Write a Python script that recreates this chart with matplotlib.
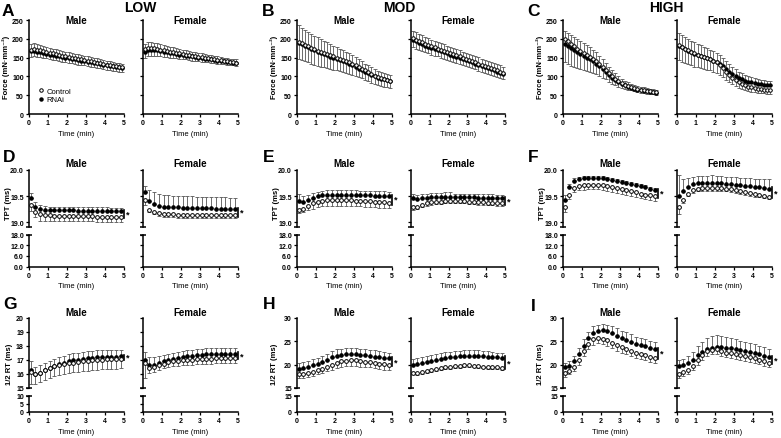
import numpy as np
import matplotlib
matplotlib.use('Agg')
import matplotlib.pyplot as plt

plt.rcParams['font.family'] = ['Liberation Sans', 'DejaVu Sans']
plt.rcParams['font.weight'] = 'bold'

# ---------------- DATA ----------------
GROUPS = ['LOW', 'MOD', 'HIGH']
SEXES = ['Male', 'Female']
LEGEND_LABELS = ['Control', 'RNAi']

T_FORCE = [0.083, 0.25, 0.417, 0.583, 0.75, 0.917, 1.083, 1.25, 1.417, 1.583,
           1.75, 1.917, 2.083, 2.25, 2.417, 2.583, 2.75, 2.917, 3.083, 3.25,
           3.417, 3.583, 3.75, 3.917, 4.083, 4.25, 4.417, 4.583, 4.75, 4.917]
T_TWITCH = [0.083, 0.333, 0.583, 0.833, 1.083, 1.333, 1.583, 1.833, 2.083, 2.333,
            2.583, 2.833, 3.083, 3.333, 3.583, 3.833, 4.083, 4.333, 4.583, 4.833]
X_TICKS = [0, 1, 2, 3, 4, 5]

# Force (mN/mm2) -- panels A, B, C
A_M_CTRL = [170, 172, 171, 169, 167, 165, 163, 161, 159, 157, 155, 153, 151, 150, 148,
            146, 145, 143, 141, 140, 138, 136, 135, 133, 131, 130, 128, 127, 125, 124]
A_M_RNAI = [167, 168, 166, 164, 162, 160, 158, 157, 155, 153, 151, 150, 148, 147, 145,
            144, 142, 141, 139, 138, 136, 135, 133, 131, 130, 128, 127, 125, 124, 122]
A_M_CTRL_ERR = [18, 19, 19, 18, 18, 17, 17, 17, 16, 16, 16, 16, 15, 15, 15,
                15, 15, 14, 14, 14, 14, 14, 13, 13, 13, 13, 13, 13, 13, 13]
A_M_RNAI_ERR = [19, 20, 20, 19, 19, 18, 18, 17, 17, 17, 16, 16, 16, 15, 15,
                15, 14, 14, 14, 13, 13, 13, 13, 12, 12, 12, 12, 11, 11, 11]
A_F_CTRL = [172, 175, 176, 175, 173, 171, 169, 168, 166, 164, 163, 161, 160, 158, 157,
            155, 154, 152, 151, 150, 148, 147, 145, 144, 143, 141, 140, 139, 137, 136]
A_F_RNAI = [166, 170, 171, 170, 169, 167, 166, 164, 163, 161, 160, 158, 157, 155, 154,
            153, 151, 150, 149, 147, 146, 145, 143, 142, 141, 140, 139, 137, 136, 135]
A_F_CTRL_ERR = [22, 22, 21, 20, 19, 18, 17, 17, 16, 15, 15, 14, 14, 13, 13,
                13, 12, 12, 12, 11, 11, 11, 10, 10, 10, 9, 9, 9, 8, 8]
A_F_RNAI_ERR = [20, 21, 21, 20, 19, 18, 17, 17, 16, 16, 15, 15, 14, 14, 13,
                13, 13, 12, 12, 12, 11, 11, 11, 11, 10, 10, 10, 10, 10, 10]

B_M_CTRL = [191, 188, 184, 180, 176, 172, 168, 165, 162, 159, 156, 153, 150, 147, 144,
            141, 137, 133, 129, 125, 121, 116, 111, 106, 102, 99, 96, 93, 91, 89]
B_M_RNAI = [190, 186, 181, 177, 173, 169, 166, 162, 159, 156, 152, 149, 146, 143, 140,
            137, 133, 129, 125, 121, 117, 112, 108, 104, 100, 97, 94, 92, 90, 88]
B_M_CTRL_ERR = [46, 45, 44, 43, 42, 41, 40, 39, 38, 37, 36, 35, 34, 33, 32,
                31, 30, 29, 28, 27, 26, 25, 24, 23, 22, 22, 21, 21, 20, 20]
B_M_RNAI_ERR = [46, 44, 42, 41, 40, 39, 38, 37, 36, 35, 34, 33, 32, 31, 30,
                29, 28, 27, 26, 25, 24, 22, 21, 20, 19, 18, 17, 17, 16, 16]
B_F_CTRL = [201, 198, 194, 191, 187, 184, 180, 177, 174, 171, 168, 165, 162, 159, 156,
            153, 150, 147, 144, 141, 138, 134, 131, 128, 125, 122, 119, 116, 113, 110]
B_F_RNAI = [196, 193, 189, 186, 182, 179, 176, 173, 170, 167, 164, 161, 158, 155, 152,
            149, 146, 143, 140, 137, 134, 131, 128, 125, 122, 119, 116, 113, 110, 107]
B_F_CTRL_ERR = [24, 24, 23, 23, 23, 22, 22, 22, 21, 21, 21, 21, 20, 20, 20,
                20, 20, 19, 19, 19, 19, 19, 19, 18, 18, 18, 18, 18, 18, 18]
B_F_RNAI_ERR = [24, 24, 24, 23, 23, 23, 22, 22, 22, 22, 21, 21, 21, 21, 21,
                20, 20, 20, 20, 20, 20, 20, 19, 19, 19, 19, 19, 19, 19, 19]

C_M_CTRL = [200, 193, 186, 180, 174, 168, 162, 157, 152, 146, 140, 133, 125, 117, 108,
            100, 93, 87, 82, 78, 75, 72, 69, 67, 65, 63, 61, 60, 59, 58]
C_M_RNAI = [185, 180, 175, 170, 165, 160, 155, 150, 145, 140, 134, 127, 119, 111, 103,
            96, 90, 85, 80, 76, 73, 70, 67, 65, 63, 62, 60, 59, 58, 57]
C_M_CTRL_ERR = [62, 60, 58, 55, 52, 49, 46, 43, 40, 37, 34, 31, 28, 25, 22,
                19, 16, 14, 12, 11, 10, 9, 9, 8, 8, 8, 8, 7, 7, 7]
C_M_RNAI_ERR = [36, 36, 36, 35, 35, 34, 34, 33, 32, 31, 30, 28, 26, 24, 22,
                20, 18, 16, 14, 13, 12, 11, 10, 10, 9, 9, 9, 8, 8, 8]
C_F_CTRL = [183, 178, 173, 169, 165, 161, 158, 155, 152, 149, 146, 142, 137, 130, 122,
            113, 105, 97, 90, 85, 80, 76, 73, 71, 69, 67, 66, 65, 64, 63]
C_F_RNAI = [182, 177, 172, 168, 164, 160, 157, 154, 151, 148, 145, 142, 138, 133, 127,
            120, 113, 107, 101, 96, 92, 89, 86, 84, 82, 80, 79, 78, 77, 76]
C_F_CTRL_ERR = [40, 39, 38, 37, 36, 35, 34, 33, 32, 31, 30, 29, 28, 26, 24,
                22, 20, 18, 16, 15, 14, 13, 12, 12, 11, 11, 11, 10, 10, 10]
C_F_RNAI_ERR = [33, 33, 32, 32, 31, 31, 30, 29, 28, 27, 26, 25, 24, 23, 22,
                21, 20, 19, 18, 17, 16, 15, 14, 14, 13, 13, 12, 12, 12, 12]

# TPT (ms) -- panels D, E, F
D_M_CTRL = [19.34, 19.20, 19.15, 19.13, 19.13, 19.12, 19.12, 19.12, 19.12, 19.12,
            19.12, 19.12, 19.12, 19.12, 19.11, 19.11, 19.11, 19.11, 19.11, 19.11]
D_M_RNAI = [19.46, 19.30, 19.26, 19.24, 19.23, 19.23, 19.23, 19.23, 19.23, 19.23,
            19.22, 19.22, 19.22, 19.22, 19.22, 19.22, 19.22, 19.21, 19.21, 19.21]
D_M_CTRL_ERR = [0.12, 0.10, 0.12, 0.11, 0.10, 0.10, 0.10, 0.10, 0.10, 0.10,
                0.10, 0.10, 0.10, 0.10, 0.10, 0.10, 0.10, 0.10, 0.10, 0.10]
D_M_RNAI_ERR = [0.10, 0.08, 0.07, 0.07, 0.07, 0.07, 0.07, 0.07, 0.07, 0.07,
                0.07, 0.07, 0.07, 0.07, 0.07, 0.07, 0.07, 0.07, 0.07, 0.07]
D_F_CTRL = [19.42, 19.24, 19.20, 19.17, 19.16, 19.15, 19.15, 19.14, 19.14, 19.14,
            19.14, 19.14, 19.13, 19.13, 19.13, 19.13, 19.13, 19.13, 19.13, 19.13]
D_F_RNAI = [19.58, 19.40, 19.35, 19.32, 19.30, 19.30, 19.29, 19.29, 19.28, 19.28,
            19.28, 19.27, 19.27, 19.27, 19.27, 19.26, 19.26, 19.26, 19.25, 19.25]
D_F_CTRL_ERR = [0.08, 0.05, 0.05, 0.05, 0.05, 0.05, 0.05, 0.05, 0.05, 0.05,
                0.05, 0.05, 0.05, 0.05, 0.05, 0.05, 0.05, 0.05, 0.05, 0.05]
D_F_RNAI_ERR = [0.12, 0.22, 0.22, 0.22, 0.22, 0.22, 0.22, 0.22, 0.22, 0.22,
                0.22, 0.22, 0.22, 0.22, 0.22, 0.22, 0.22, 0.22, 0.22, 0.22]

E_M_CTRL = [19.23, 19.25, 19.31, 19.36, 19.39, 19.41, 19.42, 19.42, 19.42, 19.42,
            19.42, 19.42, 19.41, 19.41, 19.40, 19.40, 19.39, 19.38, 19.38, 19.37]
E_M_RNAI = [19.40, 19.38, 19.43, 19.47, 19.50, 19.52, 19.53, 19.53, 19.53, 19.53,
            19.53, 19.53, 19.53, 19.52, 19.52, 19.52, 19.51, 19.51, 19.51, 19.50]
E_M_CTRL_ERR = [0.06, 0.06, 0.08, 0.10, 0.10, 0.10, 0.10, 0.10, 0.10, 0.10,
                0.10, 0.10, 0.10, 0.10, 0.10, 0.10, 0.10, 0.10, 0.10, 0.10]
E_M_RNAI_ERR = [0.15, 0.12, 0.10, 0.09, 0.08, 0.08, 0.08, 0.08, 0.08, 0.08,
                0.08, 0.08, 0.08, 0.08, 0.08, 0.08, 0.08, 0.08, 0.08, 0.08]
E_F_CTRL = [19.29, 19.30, 19.33, 19.36, 19.38, 19.39, 19.39, 19.40, 19.40, 19.40,
            19.40, 19.40, 19.39, 19.39, 19.38, 19.38, 19.37, 19.37, 19.36, 19.36]
E_F_RNAI = [19.46, 19.45, 19.46, 19.47, 19.48, 19.48, 19.48, 19.49, 19.49, 19.48,
            19.48, 19.48, 19.48, 19.48, 19.47, 19.47, 19.47, 19.47, 19.46, 19.46]
E_F_CTRL_ERR = [0.05, 0.05, 0.04, 0.04, 0.04, 0.04, 0.04, 0.04, 0.04, 0.04,
                0.04, 0.04, 0.04, 0.04, 0.04, 0.04, 0.04, 0.04, 0.04, 0.04]
E_F_RNAI_ERR = [0.08, 0.08, 0.08, 0.08, 0.08, 0.08, 0.08, 0.08, 0.08, 0.07,
                0.07, 0.07, 0.07, 0.07, 0.07, 0.07, 0.07, 0.07, 0.07, 0.07]

F_M_CTRL = [19.29, 19.53, 19.65, 19.69, 19.71, 19.72, 19.72, 19.72, 19.71, 19.69,
            19.67, 19.65, 19.63, 19.61, 19.59, 19.57, 19.55, 19.53, 19.52, 19.50]
F_M_RNAI = [19.43, 19.68, 19.79, 19.83, 19.85, 19.85, 19.85, 19.85, 19.84, 19.83,
            19.81, 19.79, 19.77, 19.75, 19.73, 19.71, 19.69, 19.67, 19.64, 19.61]
F_M_CTRL_ERR = [0.10, 0.08, 0.08, 0.08, 0.09, 0.09, 0.09, 0.09, 0.09, 0.09,
                0.09, 0.09, 0.09, 0.09, 0.09, 0.09, 0.09, 0.09, 0.09, 0.09]
F_M_RNAI_ERR = [0.10, 0.05, 0.05, 0.04, 0.04, 0.04, 0.04, 0.04, 0.04, 0.04,
                0.04, 0.04, 0.04, 0.04, 0.04, 0.04, 0.04, 0.04, 0.04, 0.04]
F_F_CTRL = [19.30, 19.42, 19.55, 19.61, 19.64, 19.65, 19.65, 19.65, 19.65, 19.65,
            19.64, 19.63, 19.61, 19.59, 19.57, 19.56, 19.54, 19.53, 19.51, 19.49]
F_F_RNAI = [19.50, 19.60, 19.68, 19.73, 19.75, 19.75, 19.75, 19.75, 19.75, 19.75,
            19.74, 19.73, 19.72, 19.71, 19.70, 19.69, 19.68, 19.67, 19.66, 19.64]
F_F_CTRL_ERR = [0.15, 0.06, 0.05, 0.05, 0.05, 0.05, 0.05, 0.05, 0.05, 0.05,
                0.05, 0.05, 0.05, 0.05, 0.05, 0.05, 0.05, 0.05, 0.05, 0.05]
F_F_RNAI_ERR = [0.40, 0.22, 0.17, 0.14, 0.13, 0.13, 0.14, 0.16, 0.14, 0.13,
                0.13, 0.13, 0.14, 0.14, 0.14, 0.15, 0.15, 0.16, 0.17, 0.18]

# 1/2 RT (ms) -- panels G, H, I
G_M_CTRL = [16.15, 16.00, 16.10, 16.28, 16.42, 16.55, 16.63, 16.70, 16.76, 16.82,
            16.87, 16.91, 16.95, 16.98, 17.01, 17.03, 17.05, 17.07, 17.08, 17.10]
G_M_RNAI = [16.30, 15.97, 16.07, 16.28, 16.45, 16.60, 16.72, 16.82, 16.90, 16.97,
            17.02, 17.08, 17.12, 17.16, 17.19, 17.21, 17.23, 17.24, 17.25, 17.26]
G_M_CTRL_ERR = [0.85, 0.70, 0.70, 0.70, 0.70, 0.70, 0.70, 0.70, 0.70, 0.70,
                0.70, 0.70, 0.70, 0.70, 0.70, 0.70, 0.70, 0.70, 0.70, 0.70]
G_M_RNAI_ERR = [0.65, 0.55, 0.55, 0.52, 0.50, 0.50, 0.50, 0.50, 0.50, 0.50,
                0.50, 0.50, 0.50, 0.50, 0.50, 0.50, 0.48, 0.48, 0.48, 0.48]
G_F_CTRL = [16.80, 16.45, 16.47, 16.62, 16.75, 16.84, 16.90, 16.95, 16.98, 17.00,
            17.02, 17.04, 17.06, 17.08, 17.10, 17.12, 17.13, 17.15, 17.16, 17.17]
G_F_RNAI = [17.00, 16.65, 16.65, 16.78, 16.90, 16.98, 17.05, 17.15, 17.22, 17.27,
            17.31, 17.35, 17.38, 17.42, 17.43, 17.44, 17.45, 17.45, 17.45, 17.45]
G_F_CTRL_ERR = [1.10, 0.35, 0.35, 0.35, 0.35, 0.35, 0.35, 0.35, 0.35, 0.35,
                0.35, 0.35, 0.35, 0.35, 0.35, 0.35, 0.35, 0.35, 0.35, 0.35]
G_F_RNAI_ERR = [0.60, 0.55, 0.55, 0.50, 0.48, 0.46, 0.45, 0.45, 0.44, 0.43,
                0.43, 0.42, 0.42, 0.41, 0.41, 0.41, 0.41, 0.41, 0.41, 0.41]

H_M_CTRL = [17.95, 17.90, 18.20, 18.45, 18.80, 19.15, 19.55, 19.95, 20.40, 20.70,
            20.85, 20.90, 20.90, 20.80, 20.65, 20.50, 20.35, 20.20, 20.05, 19.95]
H_M_RNAI = [19.00, 19.30, 19.50, 19.85, 20.20, 20.60, 21.05, 21.55, 21.95, 22.10,
            22.20, 22.25, 22.20, 22.10, 22.00, 21.85, 21.75, 21.60, 21.50, 21.35]
H_M_CTRL_ERR = [0.8, 0.8, 0.8, 0.9, 0.9, 1.0, 1.0, 1.1, 1.1, 1.2,
                1.2, 1.2, 1.2, 1.2, 1.2, 1.1, 1.1, 1.1, 1.1, 1.1]
H_M_RNAI_ERR = [1.3, 1.3, 1.3, 1.3, 1.3, 1.3, 1.3, 1.3, 1.35, 1.35,
                1.35, 1.35, 1.35, 1.35, 1.3, 1.3, 1.3, 1.3, 1.25, 1.25]
H_F_CTRL = [18.30, 18.25, 18.45, 18.65, 18.85, 19.05, 19.25, 19.40, 19.55, 19.65,
            19.75, 19.85, 19.85, 19.80, 19.70, 19.60, 19.55, 19.45, 19.40, 19.30]
H_F_RNAI = [20.00, 20.20, 20.40, 20.65, 20.85, 21.05, 21.25, 21.45, 21.60, 21.70,
            21.80, 21.90, 21.95, 21.90, 21.85, 21.80, 21.75, 21.65, 21.60, 21.50]
H_F_CTRL_ERR = [0.4, 0.4, 0.4, 0.4, 0.4, 0.4, 0.4, 0.4, 0.4, 0.4,
                0.4, 0.4, 0.4, 0.4, 0.4, 0.4, 0.4, 0.4, 0.4, 0.4]
H_F_RNAI_ERR = [1.3, 1.3, 1.25, 1.2, 1.2, 1.2, 1.2, 1.2, 1.2, 1.2,
                1.2, 1.2, 1.2, 1.2, 1.2, 1.15, 1.1, 1.1, 1.0, 1.0]

I_M_CTRL = [18.20, 18.60, 19.40, 21.00, 22.90, 24.50, 25.40, 25.80, 25.60, 25.20,
            24.70, 24.20, 23.80, 23.40, 23.00, 22.60, 22.30, 22.00, 21.70, 21.50]
I_M_RNAI = [19.50, 19.70, 20.80, 22.20, 24.00, 25.70, 26.80, 27.30, 27.50, 27.20,
            26.70, 26.20, 25.70, 25.30, 24.90, 24.50, 24.20, 23.90, 23.60, 23.30]
I_M_CTRL_ERR = [0.9, 0.6, 0.8, 1.0, 1.1, 1.2, 1.2, 1.2, 1.2, 1.2,
                1.2, 1.2, 1.2, 1.1, 1.1, 1.1, 1.1, 1.1, 1.1, 1.1]
I_M_RNAI_ERR = [0.9, 1.0, 1.1, 1.3, 1.5, 1.4, 1.4, 1.3, 1.3, 1.4,
                1.5, 1.6, 1.6, 1.6, 1.6, 1.5, 1.5, 1.5, 1.5, 1.5]
I_F_CTRL = [18.10, 18.40, 18.90, 19.80, 21.00, 22.10, 22.90, 23.20, 23.30, 22.90,
            22.60, 22.40, 22.20, 22.00, 21.80, 21.60, 21.40, 21.10, 20.80, 20.40]
I_F_RNAI = [19.70, 20.00, 20.40, 21.00, 22.00, 22.70, 23.30, 23.60, 23.80, 23.80,
            23.60, 23.50, 23.30, 23.10, 22.90, 22.70, 22.50, 22.20, 21.90, 21.60]
I_F_CTRL_ERR = [0.9, 0.8, 0.8, 0.9, 1.0, 1.0, 1.0, 1.0, 1.0, 1.0,
                1.0, 1.0, 1.0, 1.0, 1.0, 1.0, 1.0, 1.0, 1.0, 1.0]
I_F_RNAI_ERR = [1.3, 1.3, 1.5, 1.8, 2.0, 2.2, 2.4, 2.5, 2.5, 2.4,
                2.3, 2.2, 2.1, 2.0, 2.0, 1.9, 1.9, 1.8, 1.8, 1.8]

# ---------------- LAYOUT ----------------
W, H = 781, 439
fig = plt.figure(figsize=(W / 100, H / 100), dpi=100)
COLS = [(29, 124), (143, 238), (297, 392), (411, 505), (563, 658), (677, 772)]
ERR_COLOR = '#555555'
TICK_FS = 5
LABEL_FS = 5.5


def box(x0, x1, ytop, ybot):
    return [x0 / W, 1 - ybot / H, (x1 - x0) / W, (ybot - ytop) / H]


def style(ax, bottom=True):
    for s in ['top', 'right']:
        ax.spines[s].set_visible(False)
    ax.spines['left'].set_linewidth(1.1)
    ax.spines['bottom'].set_linewidth(1.1)
    if not bottom:
        ax.spines['bottom'].set_visible(False)
    ax.tick_params(width=0.9, length=2.2, labelsize=TICK_FS, pad=1.5)


def draw(ax, t, ctrl, cerr, rnai, rerr, ms_o=2.7, ms_f=2.3):
    z = np.zeros(len(t))
    ax.errorbar(t, ctrl, yerr=[cerr, z], fmt='none', ecolor=ERR_COLOR,
                elinewidth=0.6, capsize=1.5, capthick=0.6, zorder=2)
    ax.errorbar(t, rnai, yerr=[z, rerr], fmt='none', ecolor=ERR_COLOR,
                elinewidth=0.6, capsize=1.5, capthick=0.6, zorder=2)
    hr, = ax.plot(t, rnai, 'o', ms=ms_f, color='black', zorder=3, clip_on=False)
    hc, = ax.plot(t, ctrl, 'o', ms=ms_o, mfc='white', mec='black', mew=0.7,
                  zorder=4, clip_on=False)
    return hc, hr


def xaxis(ax):
    ax.set_xlim(0, 5)
    ax.set_xticks(X_TICKS)
    ax.set_xlabel('Time (min)', fontsize=LABEL_FS, labelpad=2.5)


def bracket(ax, ctrl, rnai, pad):
    lo = min(ctrl[-1], rnai[-1]) - pad
    hi = max(ctrl[-1], rnai[-1]) + pad
    ax.plot([5.0, 5.0], [lo, hi], color='black', lw=1.2, clip_on=False)
    ax.text(5.22, (lo + hi) / 2, '*', fontsize=6.5, ha='center', va='center')


def break_caps(axu, axl):
    for ax, y in [(axu, 0.0), (axl, 1.0)]:
        ax.plot([-0.035, 0.035], [y, y], transform=ax.transAxes, color='black',
                lw=1.1, clip_on=False, solid_capstyle='butt')


# ---------------- ROW 1: FORCE ----------------
force_sets = [
    (A_M_CTRL, A_M_CTRL_ERR, A_M_RNAI, A_M_RNAI_ERR),
    (A_F_CTRL, A_F_CTRL_ERR, A_F_RNAI, A_F_RNAI_ERR),
    (B_M_CTRL, B_M_CTRL_ERR, B_M_RNAI, B_M_RNAI_ERR),
    (B_F_CTRL, B_F_CTRL_ERR, B_F_RNAI, B_F_RNAI_ERR),
    (C_M_CTRL, C_M_CTRL_ERR, C_M_RNAI, C_M_RNAI_ERR),
    (C_F_CTRL, C_F_CTRL_ERR, C_F_RNAI, C_F_RNAI_ERR),
]
for i, (c, ce, r, re_) in enumerate(force_sets):
    x0, x1 = COLS[i]
    ax = fig.add_axes(box(x0, x1, 21, 115))
    style(ax)
    hc, hr = draw(ax, T_FORCE, c, ce, r, re_, ms_o=2.5, ms_f=2.2)
    ax.set_ylim(0, 250)
    ax.set_yticks([0, 50, 100, 150, 200, 250])
    if i % 2 == 1:
        ax.set_yticklabels([])
    else:
        fig.text((x0 - 23) / W, 1 - 67 / H, 'Force (mN\u00b7mm\u207b\u00b2)',
                 rotation=90, ha='center', va='center', fontsize=LABEL_FS)
    xaxis(ax)
    fig.text((x0 + x1) / 2 / W, 1 - 21 / H, SEXES[i % 2], ha='center',
             va='center', fontsize=7)
    if i == 0:
        ax.legend([hc, hr], LEGEND_LABELS, loc='upper left',
                  bbox_to_anchor=(0.105, 0.285), frameon=False,
                  prop={'size': 5.5, 'weight': 'normal'},
                  handlelength=0.6, handletextpad=0.4,
                  labelspacing=0.2, borderpad=0, borderaxespad=0)


# ---------------- ROWS 2 & 3: BROKEN AXES ----------------
def broken_panel(i, top, brk_top, brk_bot, bot, t, c, ce, r, re_,
                 ylim_u, yt_u, ytl_u, ylim_l, yt_l, ytl_l, pad):
    x0, x1 = COLS[i]
    axu = fig.add_axes(box(x0, x1, top, brk_top))
    axl = fig.add_axes(box(x0, x1, brk_bot, bot), sharex=axu)
    style(axu, bottom=False)
    style(axl)
    axu.tick_params(axis='x', bottom=False, labelbottom=False)
    draw(axu, t, c, ce, r, re_)
    axu.set_ylim(*ylim_u)
    axl.set_ylim(*ylim_l)
    axu.set_yticks(yt_u)
    axl.set_yticks(yt_l)
    if i % 2 == 0:
        axu.set_yticklabels(ytl_u)
        axl.set_yticklabels(ytl_l)
    else:
        axu.set_yticklabels([])
        axl.set_yticklabels([])
    xaxis(axl)
    bracket(axu, c, r, pad)
    break_caps(axu, axl)
    return axu, axl


TPT_U_TICKS = [19.0, 19.5, 20.0]
TPT_U_LABELS = ['19.0', '19.5', '20.0']
TPT_L_TICKS = [0, 6, 12, 18]
TPT_L_LABELS = ['0.0', '6.0', '12.0', '18.0']

tpt_sets = [
    (D_M_CTRL, D_M_CTRL_ERR, D_M_RNAI, D_M_RNAI_ERR),
    (D_F_CTRL, D_F_CTRL_ERR, D_F_RNAI, D_F_RNAI_ERR),
    (E_M_CTRL, E_M_CTRL_ERR, E_M_RNAI, E_M_RNAI_ERR),
    (E_F_CTRL, E_F_CTRL_ERR, E_F_RNAI, E_F_RNAI_ERR),
    (F_M_CTRL, F_M_CTRL_ERR, F_M_RNAI, F_M_RNAI_ERR),
    (F_F_CTRL, F_F_CTRL_ERR, F_F_RNAI, F_F_RNAI_ERR),
]
for i, (c, ce, r, re_) in enumerate(tpt_sets):
    broken_panel(i, 171, 228, 235.5, 267.5, T_TWITCH, c, ce, r, re_,
                 (18.91, 20.0), TPT_U_TICKS, TPT_U_LABELS,
                 (0, 18), TPT_L_TICKS, TPT_L_LABELS, 0.03)
    x0, x1 = COLS[i]
    fig.text((x0 + x1) / 2 / W, 1 - 164 / H, SEXES[i % 2], ha='center',
             va='center', fontsize=7)
    if i % 2 == 0:
        fig.text((x0 - 21) / W, 1 - 204 / H, 'TPT (ms)', rotation=90,
                 ha='center', va='center', fontsize=LABEL_FS)

RT_SETS = [
    (G_M_CTRL, G_M_CTRL_ERR, G_M_RNAI, G_M_RNAI_ERR),
    (G_F_CTRL, G_F_CTRL_ERR, G_F_RNAI, G_F_RNAI_ERR),
    (H_M_CTRL, H_M_CTRL_ERR, H_M_RNAI, H_M_RNAI_ERR),
    (H_F_CTRL, H_F_CTRL_ERR, H_F_RNAI, H_F_RNAI_ERR),
    (I_M_CTRL, I_M_CTRL_ERR, I_M_RNAI, I_M_RNAI_ERR),
    (I_F_CTRL, I_F_CTRL_ERR, I_F_RNAI, I_F_RNAI_ERR),
]
G_U_TICKS = [15, 16, 17, 18, 19, 20]
G_L_TICKS = [0, 5, 10]
HI_U_TICKS = [15, 20, 25, 30]
HI_L_TICKS = [0, 15]
for i, (c, ce, r, re_) in enumerate(RT_SETS):
    if i < 2:
        ylu, ytu, yll, ytl, pad = (15, 20), G_U_TICKS, (0, 10), G_L_TICKS, 0.1
    else:
        ylu, ytu, yll, ytl, pad = (15, 30), HI_U_TICKS, (0, 15), HI_L_TICKS, 0.3
    broken_panel(i, 319, 389, 397, 413, T_TWITCH, c, ce, r, re_,
                 ylu, ytu, [str(v) for v in ytu],
                 yll, ytl, [str(v) for v in ytl], pad)
    x0, x1 = COLS[i]
    fig.text((x0 + x1) / 2 / W, 1 - 313 / H, SEXES[i % 2], ha='center',
             va='center', fontsize=7)
    if i % 2 == 0:
        off = 19 if i == 0 else 23
        fig.text((x0 - off) / W, 1 - 364 / H, '1/2 RT (ms)', rotation=90,
                 ha='center', va='center', fontsize=LABEL_FS)

# ---------------- HEADERS & LETTERS ----------------
for name, xc in zip(GROUPS, [140, 399, 666]):
    fig.text(xc / W, 1 - 8 / H, name, ha='center', va='center', fontsize=10)

letters = [('A', 2, 11), ('B', 262, 11), ('C', 527, 11),
           ('D', 3, 158), ('E', 263, 158), ('F', 528, 158),
           ('G', 3, 305), ('H', 263, 305), ('I', 531, 307)]
for lt, lx, ly in letters:
    fig.text(lx / W, 1 - ly / H, lt, ha='left', va='center', fontsize=12.5)

fig.savefig('out.png', dpi=100)
